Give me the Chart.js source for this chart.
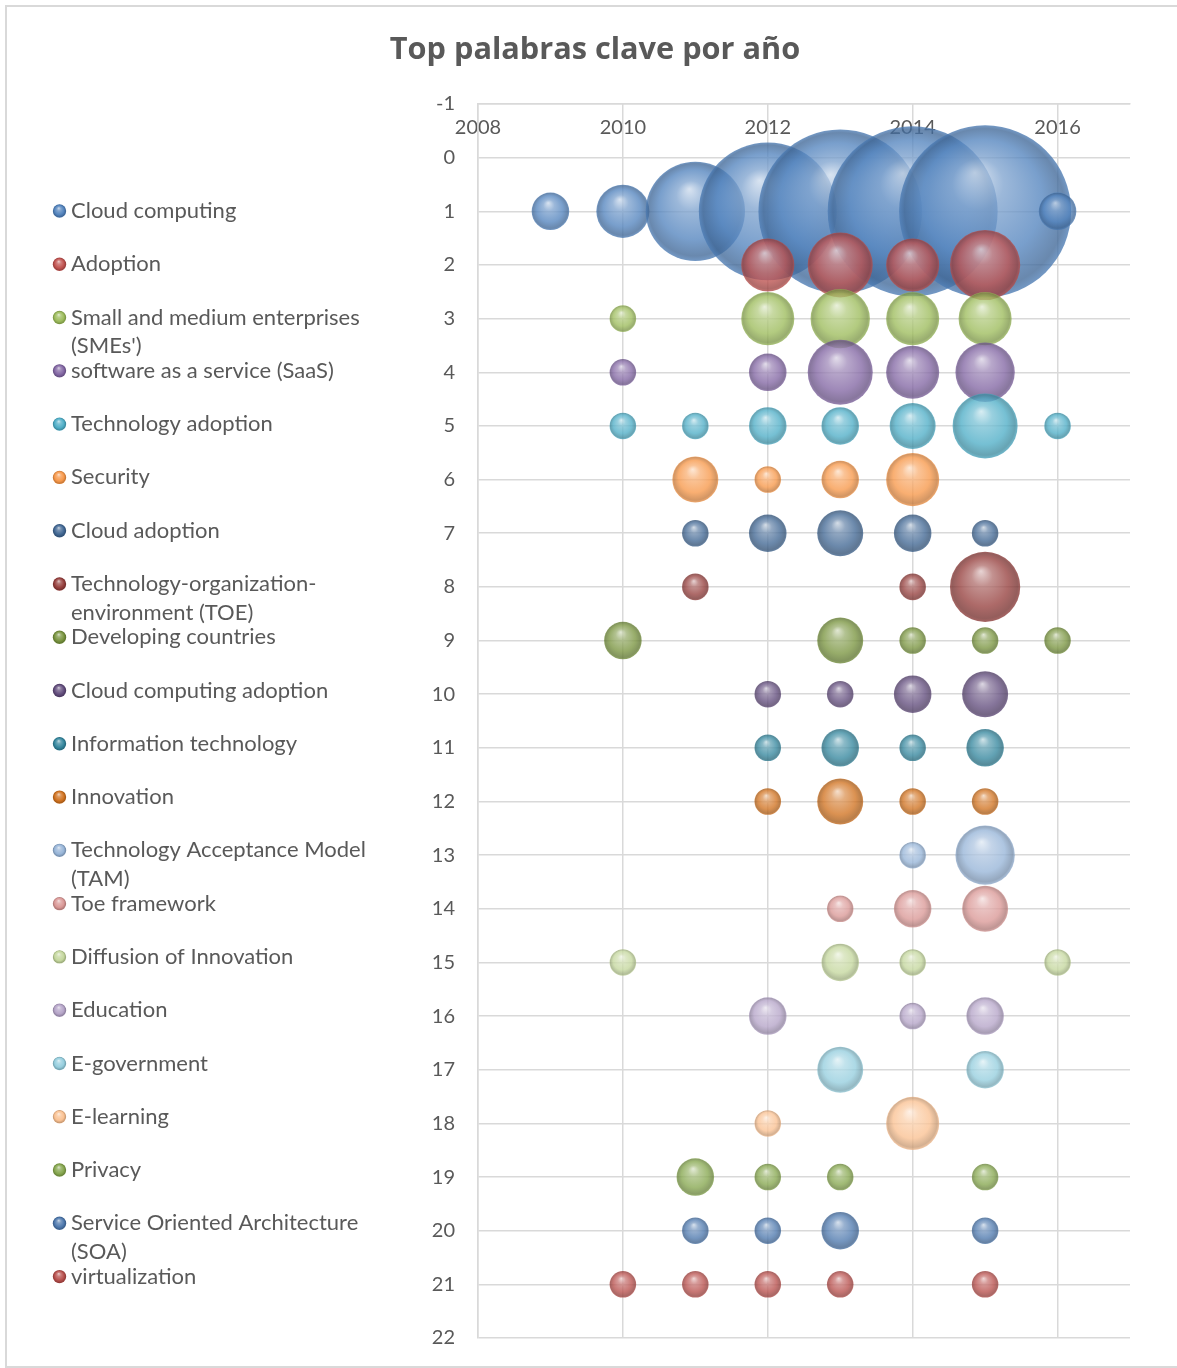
<!DOCTYPE html>
<html>
<head>
<meta charset="utf-8">
<title>Top palabras clave por año</title>
<script src="https://cdn.jsdelivr.net/npm/chart.js@4.4.1/dist/chart.umd.min.js"></script>
<style>
  html, body { margin: 0; padding: 0; background: #fff; overflow: hidden; }
  #frame { position: absolute; left: 5px; top: 5px; width: 1220px; height: 1359px; border: 2px solid #d9d9d9; }
  #chart { position: absolute; left: 0; top: 0; }
</style>
</head>
<body>
<div id="frame"></div>
<canvas id="chart" width="1177" height="1368"></canvas>
<script>
// Years on the x axis
const years = [2009, 2010, 2011, 2012, 2013, 2014, 2015, 2016];
const xTicks = [2008, 2010, 2012, 2014, 2016];

// Keywords, in rank order (row 1 = top)
const keywords = [
    'Cloud computing',
    'Adoption',
    "Small and medium enterprises (SMEs')",
    'software as a service (SaaS)',
    'Technology adoption',
    'Security',
    'Cloud adoption',
    'Technology-organization-environment (TOE)',
    'Developing countries',
    'Cloud computing adoption',
    'Information technology',
    'Innovation',
    'Technology Acceptance Model (TAM)',
    'Toe framework',
    'Diffusion of Innovation',
    'Education',
    'E-government',
    'E-learning',
    'Privacy',
    'Service Oriented Architecture (SOA)',
    'virtualization'
];

// Occurrences per keyword and year (same order as years, null = none)
const counts = [
    [2, 4, 14, 27, 38, 41, 42, 2],            // Cloud computing
    [null, null, null, 4, 6, 4, 7, null],     // Adoption
    [null, 1, null, 4, 5, 4, 4, null],        // SMEs
    [null, 1, null, 2, 6, 4, 5, null],        // SaaS
    [null, 1, 1, 2, 2, 3, 6, 1],              // Technology adoption
    [null, null, 3, 1, 2, 4, null, null],     // Security
    [null, null, 1, 2, 3, 2, 1, null],        // Cloud adoption
    [null, null, 1, null, null, 1, 7, null],  // TOE
    [null, 2, null, null, 3, 1, 1, 1],        // Developing countries
    [null, null, null, 1, 1, 2, 3, null],     // Cloud computing adoption
    [null, null, null, 1, 2, 1, 2, null],     // Information technology
    [null, null, null, 1, 3, 1, 1, null],     // Innovation
    [null, null, null, null, null, 1, 5, null], // TAM
    [null, null, null, null, 1, 2, 3, null],  // Toe framework
    [null, 1, null, null, 2, 1, null, 1],     // Diffusion of Innovation
    [null, null, null, 2, null, 1, 2, null],  // Education
    [null, null, null, null, 3, null, 2, null], // E-government
    [null, null, null, 1, null, 4, null, null], // E-learning
    [null, null, 2, 1, 1, null, 1, null],     // Privacy
    [null, null, 1, 1, 2, null, 1, null],     // SOA
    [null, 1, 1, 1, 1, null, 1, null]         // virtualization
];

const colors = [
    '#4F81BD', '#C0504D', '#9BBB59', '#8064A2', '#4BACC6', '#F79646',
    '#3E6592', '#943C3A', '#77933C', '#604A7B', '#31859C', '#D0701C',
    '#95B3D7', '#D99694', '#C3D69B', '#B3A2C7', '#93CDDD', '#FAC090',
    '#84A54B', '#4A76AC', '#B74C49'
];

const TEXT = '#595959';
const GRID = '#d9d9d9';
const FONT = 'Lato, "Open Sans", sans-serif';
const MAX_RADIUS = 86;
const maxCount = Math.max(...counts.flat().filter(v => v != null));

function bubbleRadius(n) {
    // bubble area proportional to the count
    return MAX_RADIUS * Math.sqrt(n / maxCount);
}

function shade(hex, t, alpha) {
    const n = parseInt(hex.slice(1), 16);
    const f = c => Math.round(t >= 0 ? c + (255 - c) * t : c * (1 + t));
    return `rgba(${f(n >> 16)},${f((n >> 8) & 255)},${f(n & 255)},${alpha})`;
}

function sphere(ctx2d, cx, cy, r, hex, alpha) {
    const g = ctx2d.createRadialGradient(cx - 0.12 * r, cy - 0.45 * r, 0, cx, cy, r);
    g.addColorStop(0, shade(hex, 0.72, alpha));
    g.addColorStop(0.3, shade(hex, 0.28, alpha));
    g.addColorStop(0.7, shade(hex, 0.02, alpha));
    g.addColorStop(0.93, shade(hex, -0.2, alpha));
    g.addColorStop(1, shade(hex, -0.05, alpha));
    return g;
}

function sphereFill(hex) {
    return function (ctx) {
        const chart = ctx.chart;
        if (ctx.type !== 'data' || !ctx.raw || !chart.scales.x || !chart.scales.y) return hex;
        const cx = chart.scales.x.getPixelForValue(ctx.raw.x);
        const cy = chart.scales.y.getPixelForValue(ctx.raw.y);
        if (!isFinite(cx) || !isFinite(cy)) return hex;
        return sphere(chart.ctx, cx, cy, bubbleRadius(ctx.raw.n), hex, 0.78);
    };
}

const datasets = keywords.map((name, i) => ({
    label: name,
    data: years
        .map((yr, j) => counts[i][j] == null ? null : { x: yr, y: i + 1, n: counts[i][j] })
        .filter(Boolean),
    backgroundColor: sphereFill(colors[i]),
    borderWidth: 0,
    hoverBorderWidth: 0,
    radius: ctx => ctx.raw ? bubbleRadius(ctx.raw.n) : 6,
    hoverRadius: 0,
    order: -i   // later series painted on top, like Excel
}));

// Legend drawn on the left, one slot per keyword (Excel style)
function wrapText(ctx, text, maxWidth) {
    const parts = text.split(/(?<= )|(?<=-)/);
    const lines = [];
    let line = '';
    parts.forEach(p => {
        const test = line + p;
        if (line && ctx.measureText(test.trimEnd()).width > maxWidth) {
            lines.push(line.trimEnd());
            line = p;
        } else {
            line = test;
        }
    });
    if (line) lines.push(line.trimEnd());
    return lines;
}

const sideLegend = {
    id: 'sideLegend',
    afterDraw(chart) {
        const ctx = chart.ctx;
        const top = 211, step = 53.28, lineH = 28.6;
        ctx.save();
        ctx.font = `22px ${FONT}`;
        ctx.textBaseline = 'middle';
        ctx.textAlign = 'left';
        chart.data.datasets.forEach((ds, i) => {
            const y = top + i * step;
            ctx.beginPath();
            ctx.arc(59.5, y, 6.7, 0, Math.PI * 2);
            ctx.fillStyle = sphere(ctx, 59.5, y, 6.7, colors[i], 1);
            ctx.fill();
            ctx.fillStyle = TEXT;
            wrapText(ctx, ds.label, 322).forEach((ln, k) => ctx.fillText(ln, 71, y + k * lineH));
        });
        ctx.restore();
    }
};

new Chart(document.getElementById('chart'), {
    type: 'bubble',
    data: { datasets: datasets },
    plugins: [sideLegend],
    options: {
        responsive: false,
        animation: false,
        layout: {
            autoPadding: false,
            padding: { left: 60, right: 47, top: 10, bottom: 30 }
        },
        plugins: {
            legend: { display: false },
            tooltip: { enabled: false },
            title: {
                display: true,
                text: 'Top palabras clave por año',
                color: TEXT,
                font: { family: '"Open Sans", Lato, sans-serif', size: 30.7, weight: 'bold', lineHeight: 1.2 },
                padding: { top: 21.6, bottom: 35.6 }
            }
        },
        scales: {
            x: {
                type: 'linear',
                position: { y: -1 },
                min: 2008,
                max: 2017,
                afterBuildTicks: s => { s.ticks = xTicks.map(v => ({ value: v })); },
                afterFit: s => {
                    // labels sit inside the plot, below the top line: take no room
                    s.height = 0;
                    s.paddingLeft = s.paddingRight = s.paddingTop = s.paddingBottom = 0;
                },
                ticks: {
                    color: TEXT,
                    padding: 12,
                    font: { family: FONT, size: 20 },
                    callback: v => String(v)
                },
                grid: { color: GRID, lineWidth: 1.5, drawTicks: false },
                border: { color: GRID, width: 1.5 }
            },
            y: {
                type: 'linear',
                position: 'left',
                reverse: true,
                min: -1,
                max: 22,
                afterFit: s => {
                    s.width = 418;
                    s.paddingTop = s.paddingBottom = 0;
                },
                ticks: {
                    stepSize: 1,
                    color: TEXT,
                    padding: 23,
                    font: { family: FONT, size: 20 }
                },
                grid: { color: GRID, lineWidth: 1.5, drawTicks: false },
                border: { color: GRID, width: 1.5 }
            }
        }
    }
});
</script>
</body>
</html>
